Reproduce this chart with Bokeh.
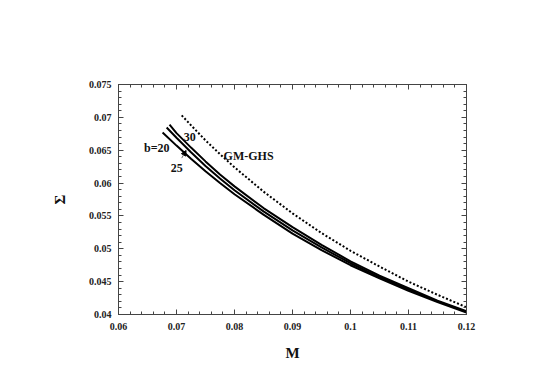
from bokeh.plotting import figure
from bokeh.models import (Range1d, FixedTicker, LinearAxis, Label, Arrow, NormalHead)
from bokeh.embed import file_html
from bokeh.resources import INLINE

# ---------------- data ----------------
m_b30 = [0.0688, 0.070, 0.0725, 0.075, 0.0775, 0.080, 0.085, 0.090, 0.095, 0.100, 0.105, 0.110, 0.115, 0.120]
s_b30 = [0.0689, 0.0676, 0.0654, 0.0633, 0.0613, 0.0595, 0.0562, 0.0533, 0.0506, 0.0481, 0.0459, 0.0440, 0.0421, 0.0405]

m_b25 = [0.0683, 0.070, 0.0725, 0.075, 0.0775, 0.080, 0.085, 0.090, 0.095, 0.100, 0.105, 0.110, 0.115, 0.120]
s_b25 = [0.06845, 0.0669, 0.0647, 0.0626, 0.0607, 0.0589, 0.0557, 0.0528, 0.0502, 0.0478, 0.0457, 0.0438, 0.0420, 0.0404]

m_b20 = [0.0676, 0.070, 0.0725, 0.075, 0.0775, 0.080, 0.085, 0.090, 0.095, 0.100, 0.105, 0.110, 0.115, 0.120]
s_b20 = [0.0677, 0.0657, 0.0637, 0.0618, 0.0600, 0.0583, 0.0552, 0.0523, 0.0498, 0.0475, 0.0455, 0.0436, 0.0419, 0.0403]

m_gm = [0.0709, 0.0725, 0.075, 0.0775, 0.080, 0.085, 0.090, 0.095, 0.100, 0.105, 0.110, 0.115, 0.120]
s_gm = [0.0703, 0.0688, 0.0665, 0.0644, 0.0624, 0.0587, 0.0554, 0.0524, 0.0497, 0.0473, 0.0450, 0.0430, 0.0411]

x_ticks = [0.06, 0.07, 0.08, 0.09, 0.10, 0.11, 0.12]
x_tick_labels = ["0.06", "0.07", "0.08", "0.09", "0.1", "0.11", "0.12"]
x_minor = [0.062, 0.064, 0.066, 0.068, 0.072, 0.074, 0.076, 0.078, 0.082, 0.084, 0.086, 0.088,
           0.092, 0.094, 0.096, 0.098, 0.102, 0.104, 0.106, 0.108, 0.112, 0.114, 0.116, 0.118]
y_ticks = [0.04, 0.045, 0.05, 0.055, 0.06, 0.065, 0.07, 0.075]
y_tick_labels = ["0.04", "0.045", "0.05", "0.055", "0.06", "0.065", "0.07", "0.075"]
y_minor = [0.041, 0.042, 0.043, 0.044, 0.046, 0.047, 0.048, 0.049, 0.051, 0.052, 0.053, 0.054,
           0.056, 0.057, 0.058, 0.059, 0.061, 0.062, 0.063, 0.064, 0.066, 0.067, 0.068, 0.069,
           0.071, 0.072, 0.073, 0.074]

FONT = "Liberation Serif"
AX = "#444444"

p = figure(width=540, height=375, output_backend="svg", toolbar_location=None,
           x_range=Range1d(0.06, 0.12), y_range=Range1d(0.04, 0.075),
           min_border_left=118, min_border_right=74, min_border_top=84, min_border_bottom=61,
           x_axis_label="M", y_axis_label="Σ")
p.grid.visible = False
p.outline_line_color = AX
p.outline_line_width = 1
p.background_fill_color = "white"
p.border_fill_color = "white"

xt = FixedTicker(ticks=x_ticks, minor_ticks=x_minor)
yt = FixedTicker(ticks=y_ticks, minor_ticks=y_minor)

def style_axis(ax, show_labels=True):
    ax.axis_line_color = AX
    ax.major_tick_line_color = AX
    ax.minor_tick_line_color = AX
    ax.major_tick_in = 5
    ax.major_tick_out = 0
    ax.minor_tick_in = 3
    ax.minor_tick_out = 0
    ax.major_tick_line_width = 1
    ax.minor_tick_line_width = 1
    ax.major_label_text_font = FONT
    ax.major_label_text_font_style = "bold"
    ax.major_label_text_font_size = "10px"
    ax.major_label_text_color = "#222222"
    ax.axis_label_text_font = FONT
    ax.axis_label_text_font_style = "bold"
    ax.axis_label_text_font_size = "15px"
    ax.axis_label_text_color = "#111111"
    if not show_labels:
        ax.major_label_text_font_size = "0px"
        ax.major_label_text_color = None

xa = p.xaxis[0]
xa.ticker = xt
xa.major_label_overrides = dict(zip(x_ticks, x_tick_labels))
xa.major_label_standoff = 8
xa.axis_label_standoff = 12
style_axis(xa)

ya = p.yaxis[0]
ya.ticker = yt
ya.major_label_overrides = dict(zip(y_ticks, y_tick_labels))
ya.major_label_standoff = 7
ya.axis_label_standoff = 18
style_axis(ya)

top = LinearAxis(ticker=FixedTicker(ticks=x_ticks, minor_ticks=x_minor))
style_axis(top, False)
p.add_layout(top, "above")
right = LinearAxis(ticker=FixedTicker(ticks=y_ticks, minor_ticks=y_minor))
style_axis(right, False)
p.add_layout(right, "right")

p.line(m_b30, s_b30, line_color="black", line_width=2)
p.line(m_b25, s_b25, line_color="black", line_width=2)
p.line(m_b20, s_b20, line_color="black", line_width=2)
p.line(m_gm, s_gm, line_color="black", line_width=2, line_dash="2 2")

def lab(x, y, t):
    p.add_layout(Label(x=x, y=y, text=t, text_font=FONT, text_font_style="bold",
                       text_font_size="12px", text_align="center", text_baseline="middle",
                       text_color="#111111"))

lab(0.0666, 0.06535, "b=20")
lab(0.0723, 0.06707, "30")
lab(0.07006, 0.06234, "25")
lab(0.08243, 0.06417, "GM-GHS")

p.add_layout(Arrow(end=NormalHead(size=5, fill_color="black", line_color="black"),
                   x_start=0.07090, y_start=0.06380, x_end=0.07165, y_end=0.06495,
                   line_color="#666666", line_width=1))

open("out.html", "w").write(file_html(p, INLINE))
